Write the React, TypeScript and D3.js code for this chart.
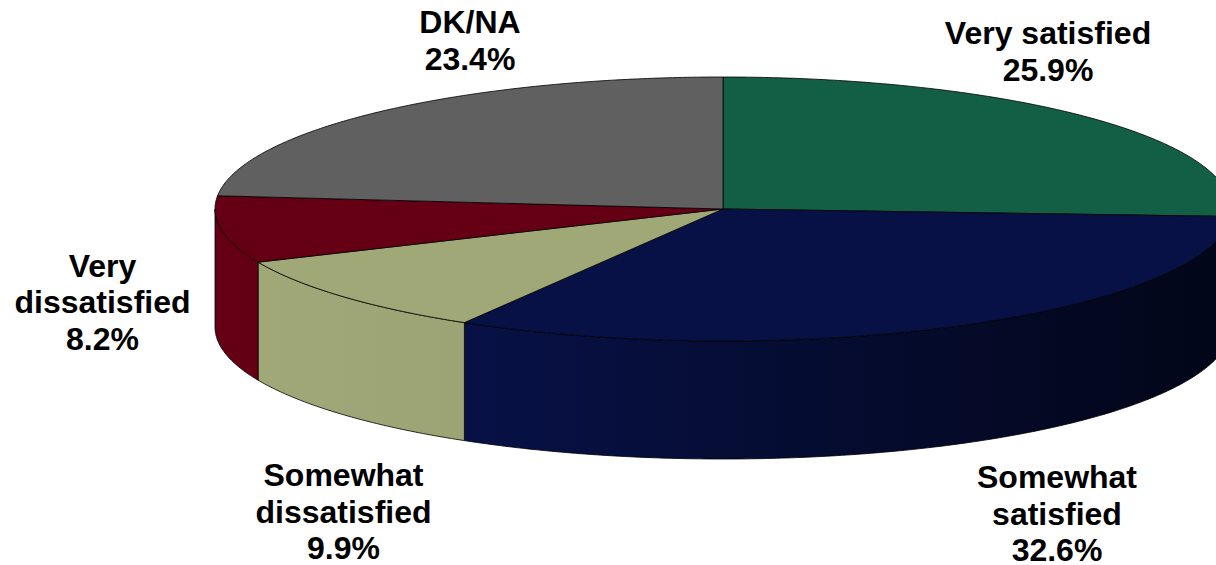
import React from "react";
import * as d3 from "d3";

const categories = ["Very satisfied", "Somewhat satisfied", "Somewhat dissatisfied", "Very dissatisfied", "DK/NA"];
const values = [25.9, 32.6, 9.9, 8.2, 23.4];
const topColors = ["#135F45", "#071146", "#A0A878", "#650014", "#606060"];
const sideStart = ["#0E4733", "#071146", "#A0A878", "#650014", "#484848"];
const sideEnd = ["#0E4733", "#020618", "#9CA375", "#650014", "#484848"];
const labelLines = [
  ["Very satisfied", "25.9%"],
  ["Somewhat", "satisfied", "32.6%"],
  ["Somewhat", "dissatisfied", "9.9%"],
  ["Very", "dissatisfied", "8.2%"],
  ["DK/NA", "23.4%"],
];
const labelBaselines: [number, number][] = [
  [1048, 44],
  [1057, 488],
  [343.5, 486],
  [102.5, 276.5],
  [470, 33],
];

const W = 1216, H = 565;
const cx = 723, cy = 209, rx = 508, ry = 132, depth = 118;
const px = (a: number) => cx + rx * Math.sin(a);
const py = (a: number) => cy - ry * Math.cos(a);

const arcPoints = (a0: number, a1: number, dy = 0): [number, number][] => {
  const n = Math.max(2, Math.ceil(Math.abs(a1 - a0) / 0.01));
  return d3.range(n + 1).map((i) => {
    const a = a0 + ((a1 - a0) * i) / n;
    return [px(a), py(a) + dy] as [number, number];
  });
};
const line = d3.line<[number, number]>();

export default function App() {
  const arcs = d3.pie<number>().sort(null).startAngle(0).endAngle(2 * Math.PI)(values);
  const front0 = Math.PI / 2, front1 = (3 * Math.PI) / 2;
  return (
    <svg width={W} height={H} viewBox={`0 0 ${W} ${H}`}
      style={{ position: "absolute", left: 0, top: 0, background: "#fff" }}>
      <defs>
        {arcs.map((d, i) => {
          const x0 = px(Math.min(Math.max(d.endAngle, front0), front1));
          const x1 = px(Math.max(d.startAngle, front0));
          return (
            <linearGradient key={i} id={`side${i}`} gradientUnits="userSpaceOnUse" x1={x0} x2={x1} y1={0} y2={0}>
              <stop offset="0" stopColor={sideStart[i]} />
              <stop offset="1" stopColor={sideEnd[i]} />
            </linearGradient>
          );
        })}
      </defs>
      {arcs.map((d, i) => {
        const a0 = Math.max(d.startAngle, front0);
        const a1 = Math.min(d.endAngle, front1);
        if (a1 <= a0) return null;
        const pts = [...arcPoints(a0, a1), ...arcPoints(a1, a0, depth)];
        return <path key={`s${i}`} d={line(pts)! + "Z"} fill={`url(#side${i})`} stroke="#000" strokeWidth={0.8} strokeLinejoin="round" />;
      })}
      {arcs.map((d, i) => {
        const pts: [number, number][] = [[cx, cy], ...arcPoints(d.startAngle, d.endAngle)];
        return <path key={`t${i}`} d={line(pts)! + "Z"} fill={topColors[i]} stroke="#000" strokeWidth={0.8} strokeLinejoin="round" />;
      })}
      {labelLines.map((lines, i) => (
        <text key={categories[i]} textAnchor="middle"
          fontFamily="'Liberation Sans', Arial, sans-serif" fontWeight="bold" fontSize={32} fill="#000">
          {lines.map((t, j) => (
            <tspan key={j} x={labelBaselines[i][0]} y={labelBaselines[i][1] + j * 36.6}>{t}</tspan>
          ))}
        </text>
      ))}
    </svg>
  );
}
